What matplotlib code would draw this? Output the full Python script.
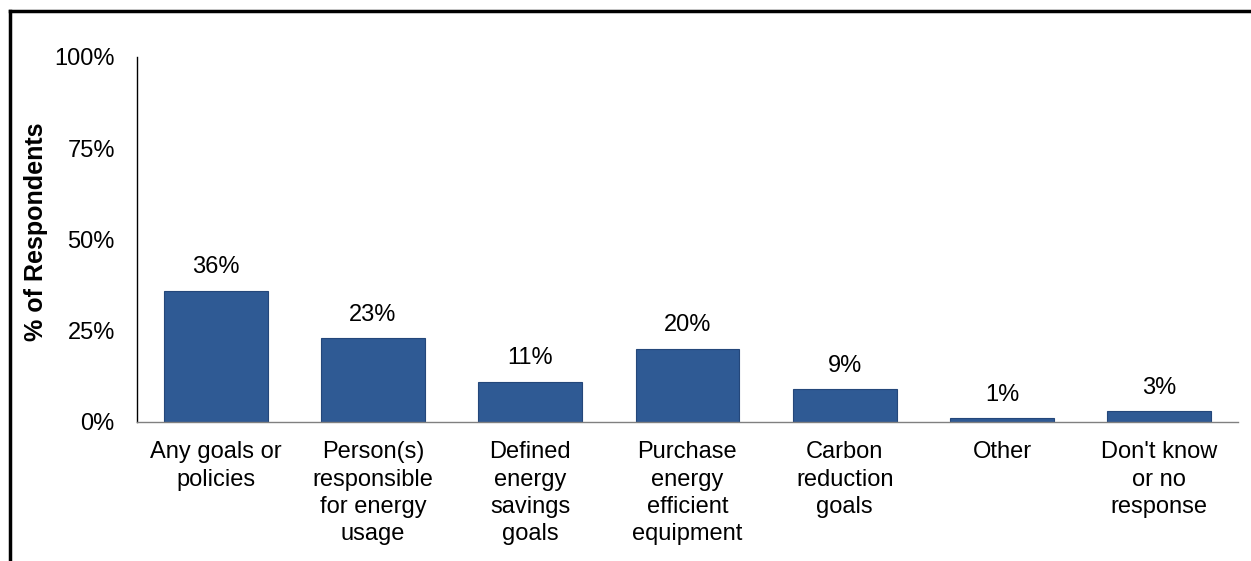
import matplotlib.pyplot as plt
import numpy as np

plt.rcParams['font.family'] = ['Liberation Sans', 'DejaVu Sans']

#----- survey results -----
categories = ["Any goals or\npolicies", "Person(s)\nresponsible\nfor energy\nusage",
              "Defined\nenergy\nsavings\ngoals", "Purchase\nenergy\nefficient\nequipment",
              "Carbon\nreduction\ngoals", "Other", "Don't know\nor no\nresponse"]
values = [36, 23, 11, 20, 9, 1, 3]
yticks = [0, 25, 50, 75, 100]

fig = plt.figure(figsize=(12.51, 5.61), dpi=100)
ax = fig.add_axes([0.1095, 0.2478, 0.88, 0.6506])

x = np.arange(len(categories))
bars = ax.bar(x, values, width=0.66, color='#2f5a94', edgecolor='#24477a', linewidth=0.8)

for b, v in zip(bars, values):
    ax.annotate(f"{v}%", (b.get_x() + b.get_width() / 2, v), xytext=(0, 9),
                textcoords='offset points', ha='center', va='bottom', fontsize=17)

ax.set_xlim(-0.5, len(categories) - 0.5)
ax.set_ylim(0, 100)
ax.set_xticks(x)
ax.set_xticklabels(categories, fontsize=17, linespacing=1.3)
ax.set_yticks(yticks)
ax.set_yticklabels([f"{t}%" for t in yticks], fontsize=17)
ax.tick_params(length=0)
ax.tick_params(axis='x', pad=14)
ax.tick_params(axis='y', pad=16)
ax.set_ylabel("% of Respondents", fontsize=18, fontweight='bold')
ax.yaxis.set_label_coords(-0.081, 0.52)

ax.spines['top'].set_visible(False)
ax.spines['right'].set_visible(False)
ax.spines['left'].set_color('black')
ax.spines['left'].set_linewidth(1.0)
ax.spines['bottom'].set_color('#808080')
ax.spines['bottom'].set_linewidth(1.0)

# outer frame on the left and top
fig.add_artist(plt.Line2D([10 / 1251, 10 / 1251], [0, 1 - 11 / 561], color='black', lw=2.5))
fig.add_artist(plt.Line2D([10 / 1251, 1], [1 - 11 / 561, 1 - 11 / 561], color='black', lw=2.5))

fig.savefig("out.png", dpi=100)
